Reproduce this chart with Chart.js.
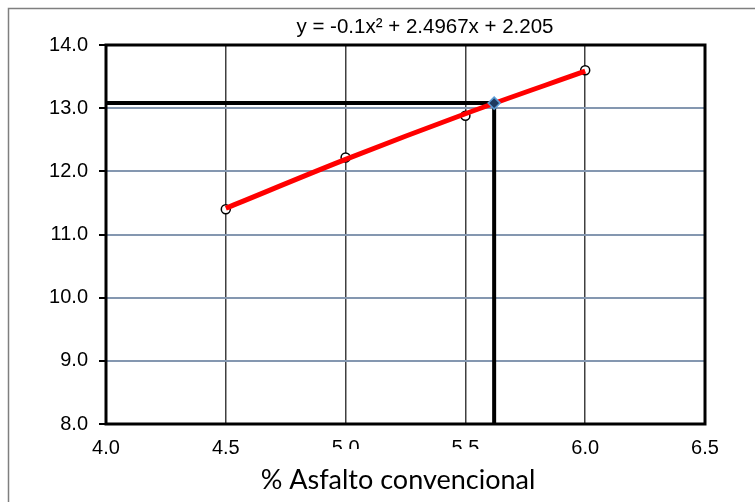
<!DOCTYPE html>
<html>
<head>
<meta charset="utf-8">
<title>% Asfalto convencional</title>
<script src="https://cdn.jsdelivr.net/npm/chart.js@4.4.1/dist/chart.umd.min.js"></script>
<style>
  html, body { margin: 0; padding: 0; background: #fff; overflow: hidden; }
  canvas { display: block; }
</style>
</head>
<body>
<canvas id="chart" width="755" height="502"></canvas>
<script>
// measured points
const asphaltPct = [4.5, 5.0, 5.5, 6.0];
const measured = [11.4, 12.22, 12.88, 13.6];

// polynomial trendline y = a*x^2 + b*x + c
const trendCoef = [-0.1, 2.4967, 2.205];
const trendLabel = 'y = -0.1x\u00B2 + 2.4967x + 2.205';

// design point read from the trendline
const designX = [5.62];
const designY = [13.08];
const guideX = [4.0, 5.62, 5.62];
const guideY = [13.08, 13.08, 8.0];

const xTicks = [4.0, 4.5, 5.0, 5.5, 6.0, 6.5];
const yTicks = [8.0, 9.0, 10.0, 11.0, 12.0, 13.0, 14.0];
const xTitle = '% Asfalto convencional';

const trend = asphaltPct.map(x => trendCoef[0] * x * x + trendCoef[1] * x + trendCoef[2]);
const pts = (xs, ys) => xs.map((x, i) => ({ x: x, y: ys[i] }));

// frame, equation and axis title drawn on top of the chart
const decorations = {
  id: 'decorations',
  afterDraw(chart) {
    const { ctx, chartArea: a } = chart;
    ctx.save();
    // outer frame (top and left edges only show)
    ctx.strokeStyle = '#7f7f7f';
    ctx.lineWidth = 1.5;
    ctx.beginPath();
    ctx.moveTo(8.5, 502);
    ctx.lineTo(8.5, 8.5);
    ctx.lineTo(755, 8.5);
    ctx.stroke();
    // plot border
    ctx.strokeStyle = '#000';
    ctx.lineWidth = 3;
    ctx.strokeRect(a.left, a.top, a.right - a.left, a.bottom - a.top);
    // trendline equation
    ctx.fillStyle = '#000';
    ctx.font = '20.5px "Liberation Sans", Arial, sans-serif';
    ctx.textAlign = 'center';
    ctx.textBaseline = 'middle';
    ctx.fillText(trendLabel, 425, 27);
    // axis title box
    ctx.fillStyle = '#fff';
    ctx.fillRect(250, 449, 298, 60);
    ctx.fillStyle = '#000';
    ctx.font = '27px Lato, "Open Sans", sans-serif';
    ctx.fillText(xTitle, 398, 480);
    ctx.restore();
  }
};

new Chart(document.getElementById('chart'), {
  type: 'scatter',
  data: {
    datasets: [
      {
        label: 'diseño',
        data: pts(designX, designY),
        pointStyle: 'rectRot',
        pointRadius: 6,
        pointBackgroundColor: '#1f3a5f',
        pointBorderColor: '#5b9bd5',
        pointBorderWidth: 1.5,
        order: 1
      },
      {
        label: 'tendencia',
        data: pts(asphaltPct, trend),
        showLine: true,
        borderColor: '#ff0000',
        borderWidth: 5,
        pointRadius: 0,
        cubicInterpolationMode: 'monotone',
        order: 2
      },
      {
        label: 'ensayos',
        data: pts(asphaltPct, measured),
        pointRadius: 4.5,
        pointBackgroundColor: '#fff',
        pointBorderColor: '#000',
        pointBorderWidth: 1.5,
        order: 3
      },
      {
        label: 'lectura',
        data: pts(guideX, guideY),
        showLine: true,
        borderColor: '#000',
        borderWidth: 4,
        pointRadius: 0,
        borderCapStyle: 'butt',
        order: 4
      }
    ]
  },
  options: {
    responsive: false,
    animation: false,
    layout: { padding: { top: 45, right: 50, left: 0, bottom: 0 } },
    plugins: { legend: { display: false }, tooltip: { enabled: false } },
    scales: {
      x: {
        type: 'linear',
        min: xTicks[0],
        max: xTicks[xTicks.length - 1],
        afterBuildTicks: s => { s.ticks = xTicks.map(v => ({ value: v })); },
        afterFit: s => { s.height = 78; },
        border: { display: false },
        grid: { color: '#404040', lineWidth: 1.5, drawTicks: false },
        ticks: {
          padding: 12,
          color: '#000',
          font: { family: '"Liberation Sans", Arial, sans-serif', size: 20 },
          callback: v => v.toFixed(1)
        }
      },
      y: {
        type: 'linear',
        min: yTicks[0],
        max: yTicks[yTicks.length - 1],
        afterBuildTicks: s => { s.ticks = yTicks.map(v => ({ value: v })); },
        afterFit: s => { s.width = 106; },
        border: { display: false },
        grid: { color: '#8497b0', lineWidth: 2, tickColor: '#000', tickLength: 7 },
        ticks: {
          padding: 11,
          color: '#000',
          font: { family: '"Liberation Sans", Arial, sans-serif', size: 20 },
          callback: v => v.toFixed(1)
        }
      }
    }
  },
  plugins: [decorations]
});
</script>
</body>
</html>
